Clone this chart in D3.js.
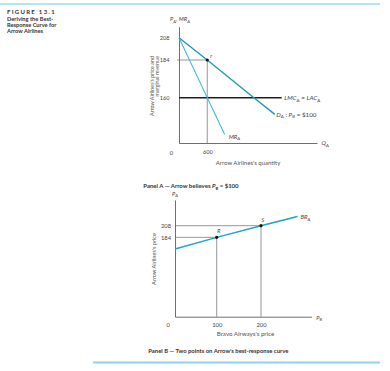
<!DOCTYPE html>
<html>
<head>
<meta charset="utf-8">
<script src="https://cdn.jsdelivr.net/npm/d3@7"></script>
<style>
  body { margin: 0; background: #fff; }
  svg { display: block; font-family: Lato, "Open Sans", sans-serif; }
</style>
</head>
<body>
<svg id="fig" width="390" height="371"></svg>
<script>
// ---- Panel A: Arrow believes P_B = $100 ----
const priceTicksA = [208, 184, 160];
const qtyTicksA = [600];
const demandQ = [0, 600, 1590, 2035];
const demandP = [208, 184, 160, 101];
const mrQ = [0, 600, 970];
const mrP = [208, 160, 30];
const lmcQ = [0, 2180];
const lmcP = [160, 160];
const pointA = { q: 600, p: 184, label: "r" };

// ---- Panel B: best-response curve ----
const priceTicksB = [208, 184];
const pbTicks = [100, 200];
const brPB = [0, 100, 200, 279];
const brPA = [160, 184, 208, 227];
const pointsB = [
  { pb: 100, pa: 184, label: "R" },
  { pb: 200, pa: 208, label: "S" }
];

const headerLines = ["Deriving the Best-", "Response Curve for", "Arrow Airlines"];

const svg = d3.select("#fig");
const axisCol = "#4a4a4a", guideCol = "#6a6a6a", txtCol = "#444";

// text with italic / subscript pieces
function rich(g, x, y, parts, opts) {
  opts = opts || {};
  const t = g.append("text")
    .attr("x", x).attr("y", y)
    .attr("font-size", opts.size || 6)
    .attr("fill", opts.fill || txtCol)
    .attr("text-anchor", opts.anchor || "start");
  if (opts.weight) t.attr("font-weight", opts.weight);
  let shifted = 0;
  parts.forEach(p => {
    const s = t.append("tspan").text(p.t);
    if (p.i) s.attr("font-style", "italic");
    if (p.sub) {
      s.attr("font-size", "70%").attr("dy", 1.6 - shifted);
      shifted = 1.6;
    } else if (shifted) {
      s.attr("dy", -shifted);
      shifted = 0;
    }
  });
  return t;
}

// rules
svg.append("line").attr("x1", 0).attr("x2", 380).attr("y1", 4).attr("y2", 4)
  .attr("stroke", "#9fd8ee").attr("stroke-width", 1.5);
svg.append("line").attr("x1", 93).attr("x2", 380).attr("y1", 362.5).attr("y2", 362.5)
  .attr("stroke", "#8fd2ec").attr("stroke-width", 2);

// header
svg.append("text").attr("x", 7).attr("y", 14)
  .attr("font-size", 6).attr("font-weight", "bold").attr("letter-spacing", 1.3)
  .attr("fill", "#333").text("FIGURE 13.1");
svg.selectAll("text.hdr").data(headerLines).enter().append("text")
  .attr("class", "hdr")
  .attr("x", 7).attr("y", (d, i) => 21 + i * 5.8)
  .attr("font-size", 5.7).attr("font-weight", "bold").attr("fill", "#333")
  .text(d => d);

// ================= Panel A =================
const xA = d3.scaleLinear().domain([0, 2930]).range([179, 317]);
const yA = d3.scaleLinear().domain([0, 160, 184, 208, 220]).range([143, 97.7, 60, 37.7, 26.7]);
const gA = svg.append("g");

const axA_y = gA.append("g").attr("transform", `translate(${xA(0)},0)`)
  .call(d3.axisLeft(yA).tickValues(priceTicksA).tickSize(0).tickSizeOuter(0).tickPadding(9.5));
const axA_x = gA.append("g").attr("transform", `translate(0,${yA(0)})`)
  .call(d3.axisBottom(xA).tickValues(qtyTicksA).tickSize(0).tickSizeOuter(0).tickPadding(7.5));
[axA_y, axA_x].forEach(a => {
  a.select(".domain").attr("stroke", axisCol).attr("stroke-width", 0.8);
  a.selectAll("text").attr("font-size", 5.6).attr("fill", txtCol).attr("font-family", "Lato, sans-serif");
});
gA.append("text").attr("x", xA(0) - 7.5).attr("y", yA(0) + 12.3)
  .attr("font-size", 5.8).attr("text-anchor", "middle").attr("fill", txtCol).text("0");

// guide lines to point r
gA.append("line").attr("x1", xA(0) - 2).attr("x2", xA(pointA.q))
  .attr("y1", yA(pointA.p)).attr("y2", yA(pointA.p))
  .attr("stroke", guideCol).attr("stroke-width", 0.7);
gA.append("line").attr("x1", xA(pointA.q)).attr("x2", xA(pointA.q))
  .attr("y1", yA(0)).attr("y2", yA(pointA.p))
  .attr("stroke", guideCol).attr("stroke-width", 0.7);

const lineA = d3.line().x(d => xA(d[0])).y(d => yA(d[1]));
gA.append("path").datum(d3.zip(lmcQ, lmcP)).attr("d", lineA)
  .attr("fill", "none").attr("stroke", "#1e1e1e").attr("stroke-width", 1.4);
gA.append("path").datum(d3.zip(mrQ, mrP)).attr("d", lineA)
  .attr("fill", "none").attr("stroke", "#4bbad8").attr("stroke-width", 1.1);
gA.append("path").datum(d3.zip(demandQ, demandP)).attr("d", lineA)
  .attr("fill", "none").attr("stroke", "#1c9ab6").attr("stroke-width", 1.4);

gA.append("circle").attr("cx", xA(pointA.q)).attr("cy", yA(pointA.p)).attr("r", 1.6).attr("fill", "#111");
rich(gA, xA(pointA.q) + 3, yA(pointA.p) - 1.8, [{ t: pointA.label, i: true }], { size: 5 });

// labels
rich(gA, xA(0) + 1, 21, [{ t: "P", i: true }, { t: "A", sub: true }, { t: ", " }, { t: "MR", i: true }, { t: "A", sub: true }], { anchor: "middle", size: 5.8 });
rich(gA, xA(lmcQ[1]) + 2.5, yA(160) + 2.2, [{ t: "LMC", i: true }, { t: "A", sub: true }, { t: " = " }, { t: "LAC", i: true }, { t: "A", sub: true }], { size: 6.3 });
rich(gA, xA(demandQ[3]) + 1.5, yA(demandP[3]) + 2.2, [{ t: "D", i: true }, { t: "A", sub: true }, { t: " : " }, { t: "P", i: true }, { t: "B", sub: true }, { t: " = $100" }], { size: 6.3 });
rich(gA, xA(mrQ[2]) + 4, yA(mrP[2]) + 4.2, [{ t: "MR", i: true }, { t: "A", sub: true }], { size: 6 });
rich(gA, xA(2930) + 4.5, yA(0) + 2, [{ t: "Q", i: true }, { t: "A", sub: true }], { size: 6 });
gA.append("text").attr("x", 248).attr("y", 164.5).attr("text-anchor", "middle")
  .attr("font-size", 6).attr("fill", "#555").text("Arrow Airlines's quantity");
gA.append("text").attr("transform", "translate(154,56) rotate(-90)")
  .attr("text-anchor", "end").attr("font-size", 5.4).attr("fill", "#555")
  .text("Arrow Airlines's price and");
gA.append("text").attr("transform", "translate(159.4,56) rotate(-90)")
  .attr("text-anchor", "end").attr("font-size", 5.4).attr("fill", "#555")
  .text("marginal revenue");
rich(gA, 143.3, 188, [{ t: "Panel A \u2014 Arrow believes " }, { t: "P", i: true }, { t: "B", sub: true }, { t: " = $100" }], { size: 6, weight: "bold", fill: "#333" });

// ================= Panel B =================
const xB = d3.scaleLinear().domain([0, 100, 200, 310]).range([175, 216.7, 261, 311.7]);
const yB = d3.scaleLinear().domain([0, 160, 208, 261]).range([316.7, 249, 225.7, 200]);
const gB = svg.append("g");

const axB_y = gB.append("g").attr("transform", `translate(${xB(0)},0)`)
  .call(d3.axisLeft(yB).tickValues(priceTicksB).tickSize(0).tickSizeOuter(0).tickPadding(4));
const axB_x = gB.append("g").attr("transform", `translate(0,${yB(0)})`)
  .call(d3.axisBottom(xB).tickValues(pbTicks).tickSize(0).tickSizeOuter(0).tickPadding(6));
[axB_y, axB_x].forEach(a => {
  a.select(".domain").attr("stroke", axisCol).attr("stroke-width", 0.8);
  a.selectAll("text").attr("font-size", 5.8).attr("fill", txtCol).attr("font-family", "Lato, sans-serif");
});
gB.append("text").attr("x", xB(0) - 6.7).attr("y", yB(0) + 10.5)
  .attr("font-size", 5.8).attr("text-anchor", "middle").attr("fill", txtCol).text("0");

pointsB.forEach(p => {
  gB.append("line").attr("x1", xB(0)).attr("x2", xB(p.pb))
    .attr("y1", yB(p.pa)).attr("y2", yB(p.pa))
    .attr("stroke", guideCol).attr("stroke-width", 0.7);
  gB.append("line").attr("x1", xB(p.pb)).attr("x2", xB(p.pb))
    .attr("y1", yB(0)).attr("y2", yB(p.pa))
    .attr("stroke", guideCol).attr("stroke-width", 0.7);
});

const lineB = d3.line().x(d => xB(d[0])).y(d => yB(d[1]));
gB.append("path").datum(d3.zip(brPB, brPA)).attr("d", lineB)
  .attr("fill", "none").attr("stroke", "#1fa2c9").attr("stroke-width", 1.4);

pointsB.forEach(p => {
  gB.append("circle").attr("cx", xB(p.pb)).attr("cy", yB(p.pa)).attr("r", 1.6).attr("fill", "#111");
  rich(gB, xB(p.pb) + 0.5, yB(p.pa) - 4, [{ t: p.label, i: true }], { size: 5.4 });
});

rich(gB, xB(0), 195.5, [{ t: "P", i: true }, { t: "A", sub: true }], { anchor: "middle", size: 5.8 });
rich(gB, xB(brPB[3]) + 3, yB(brPA[3]) + 2.5, [{ t: "BR", i: true }, { t: "A", sub: true }], { size: 6 });
rich(gB, xB(310) + 4.5, yB(0) + 3, [{ t: "P", i: true }, { t: "B", sub: true }], { size: 5.8 });
gB.append("text").attr("x", 245.5).attr("y", 335.5).attr("text-anchor", "middle")
  .attr("font-size", 6.2).attr("fill", "#555").text("Bravo Airways's price");
gB.append("text").attr("transform", "translate(156,259) rotate(-90)")
  .attr("text-anchor", "middle").attr("font-size", 5.6).attr("fill", "#555")
  .text("Arrow Airlines's price");
gB.append("text").attr("x", 148.3).attr("y", 353)
  .attr("font-size", 5.9).attr("font-weight", "bold").attr("fill", "#333")
  .text("Panel B \u2014 Two points on Arrow's best-response curve");
</script>
</body>
</html>
